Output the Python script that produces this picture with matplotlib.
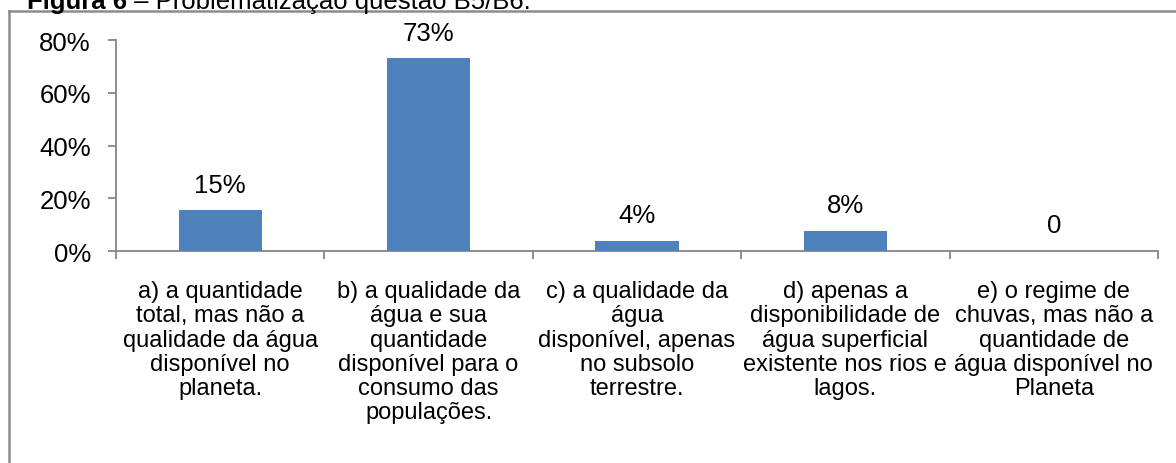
import matplotlib.pyplot as plt
from matplotlib.lines import Line2D
from matplotlib.ticker import PercentFormatter, FixedLocator

plt.rcParams['font.family'] = ['Liberation Sans', 'DejaVu Sans']

# Data
categories = [
    'a) a quantidade\ntotal, mas não a\nqualidade da água\ndisponível no\nplaneta.',
    'b) a qualidade da\nágua e sua\nquantidade\ndisponível para o\nconsumo das\npopulações.',
    'c) a qualidade da\nágua\ndisponível, apenas\nno subsolo\nterrestre.',
    'd) apenas a\ndisponibilidade de\nágua superficial\nexistente nos rios e\nlagos.',
    'e) o regime de\nchuvas, mas não a\nquantidade de\nágua disponível no\nPlaneta',
]
values = [0.154, 0.731, 0.038, 0.077, 0.0]
bar_labels = ['15%', '73%', '4%', '8%', '0']
yticks = [0, 0.2, 0.4, 0.6, 0.8]

W, H = 1176, 464
fig = plt.figure(figsize=(W / 100, H / 100), dpi=100)
fig.patch.set_facecolor('white')

# outer frame (top + left only, rest is cut off)
frame_col = '#8c8c8c'
fig.add_artist(Line2D([9 / W, 1.0], [1 - 12 / H, 1 - 12 / H], color=frame_col, lw=1.8,
                      transform=fig.transFigure))
fig.add_artist(Line2D([9 / W, 9 / W], [1 - 12 / H, 0.0], color=frame_col, lw=1.8,
                      transform=fig.transFigure))

# caption (top half cropped off in the original)
renderer = fig.canvas.get_renderer()
t1 = fig.text(27 / W, 1 - 9 / H, 'Figura 6', fontsize=18.5, weight='bold', va='baseline')
bb = t1.get_window_extent(renderer=renderer)
fig.text(bb.x1 / W, 1 - 9 / H, ' – Problematização questão B5/B6.', fontsize=18.5,
         va='baseline')

ax = fig.add_axes([116 / W, 1 - 252 / H, (1158 - 116) / W, (252 - 41) / H])
x = range(len(values))
bars = ax.bar(x, values, width=0.4, color='#4f81bd', zorder=3)

for xi, v, lab in zip(x, values, bar_labels):
    ax.annotate(lab, (xi, v), xytext=(0, 18.5), textcoords='offset points',
                ha='center', va='center', fontsize=18.5)

ax.set_xlim(-0.5, len(values) - 0.5)
ax.set_ylim(0, 0.8)
ax.set_yticks(yticks)
ax.yaxis.set_major_formatter(PercentFormatter(1.0, decimals=0))
ax.set_xticks(list(x))
ax.set_xticklabels(categories, fontsize=17, linespacing=1.13)
ax.xaxis.set_minor_locator(FixedLocator([i - 0.5 for i in range(len(values) + 1)]))

spine_col = '#868686'
for s in ['top', 'right']:
    ax.spines[s].set_visible(False)
for s in ['left', 'bottom']:
    ax.spines[s].set_color(spine_col)
    ax.spines[s].set_linewidth(1.3)

ax.tick_params(axis='y', direction='out', length=6, width=1.3, color=spine_col,
               labelsize=18.5, pad=12)
ax.tick_params(axis='x', which='major', length=0, pad=21)
ax.tick_params(axis='x', which='minor', direction='out', length=6, width=1.3, color=spine_col)

fig.savefig('out.png', dpi=100)
